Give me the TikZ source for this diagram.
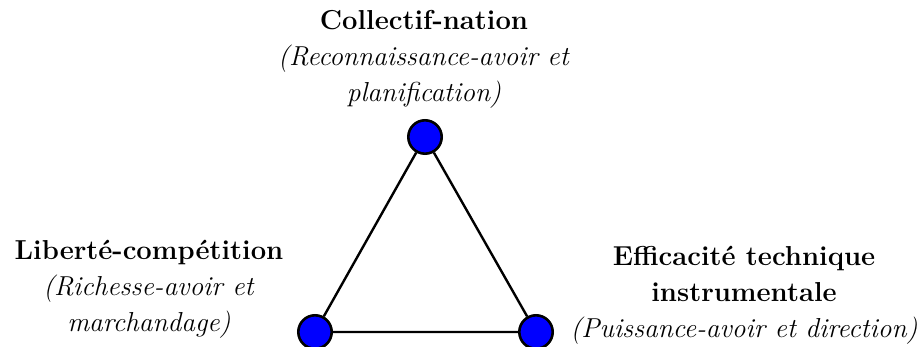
\documentclass[tikz,border=0pt]{standalone}
\usepackage{fontspec}
\usepackage{tikz}

\begin{document}
\begin{tikzpicture}[x=0.5pt, y=0.5pt,
  sommet/.style={circle, draw, fill=blue, line width=1.3pt, minimum size=16.7pt, inner sep=0pt},
  pole/.style={align=center, anchor=base, font=\fontsize{13.7}{18}\selectfont}]
  \useasboundingbox (0,0) rectangle (920,347);
  % triangle
  \node[sommet] (collectif) at (425,210) {};
  \node[sommet] (liberte) at (315,15) {};
  \node[sommet] (efficacite) at (536,15) {};
  \draw[line width=1.2pt] (collectif) -- (liberte) -- (efficacite) -- (collectif);
  % labels
  \node[pole] (collectiflab) at (424,245) {\textbf{Collectif-nation}\\ \textit{(Reconnaissance-avoir et}\\ \textit{planification)}};
  \node[pole] (libertelab) at (149,15) {\textbf{Liberté-compétition}\\ \textit{(Richesse-avoir et}\\ \textit{marchandage)}};
  \node[pole] (efficacitelab) at (744,9) {\textbf{Efficacité technique}\\ \textbf{instrumentale}\\ \textit{(Puissance-avoir et direction)}};
\end{tikzpicture}
\end{document}
